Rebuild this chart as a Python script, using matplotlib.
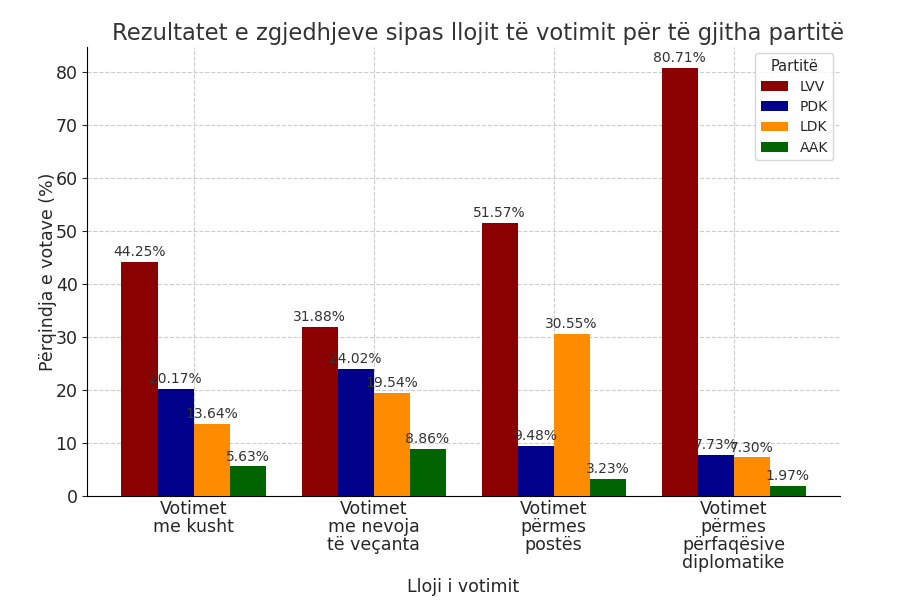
import matplotlib
matplotlib.use("Agg")
import matplotlib.pyplot as plt
import numpy as np

categories = ["Votimet\nme kusht", "Votimet\nme nevoja\ntë veçanta", "Votimet\npërmes\npostës", "Votimet\npërmes\npërfaqësive\ndiplomatike"]
parties = ["LVV", "PDK", "LDK", "AAK"]
LVV = [44.25, 31.88, 51.57, 80.71]
PDK = [20.17, 24.02, 9.48, 7.73]
LDK = [13.64, 19.54, 30.55, 7.30]
AAK = [5.63, 8.86, 3.23, 1.97]
colors = ["#8b0000", "#00008b", "#ff8c00", "#006400"]

txt = "#262626"
plt.rcParams['text.color'] = txt
plt.rcParams['axes.labelcolor'] = txt
plt.rcParams['xtick.color'] = txt
plt.rcParams['ytick.color'] = txt

fig, ax = plt.subplots(figsize=(9, 6), dpi=100)
fig.subplots_adjust(left=0.097, right=0.933, top=0.922, bottom=0.173)

x = np.arange(len(categories))
w = 0.2
series = [LVV, PDK, LDK, AAK]
for i, (name, vals) in enumerate(zip(parties, series)):
    bars = ax.bar(x + (i - 1.5) * w, vals, w, label=name, color=colors[i], zorder=3)
    for b, v in zip(bars, vals):
        ax.annotate(f"{v:.2f}%", (b.get_x() + b.get_width() / 2, v),
                    xytext=(0, 2), textcoords="offset points",
                    ha="center", va="bottom", fontsize=10, color="#333333", zorder=4)

ax.set_xticks(x)
ax.set_xticklabels(categories, fontsize=12.5, linespacing=1.0)
ax.tick_params(axis='y', labelsize=12.5)
ax.tick_params(axis='x', length=0, pad=3)
ax.set_title("Rezultatet e zgjedhjeve sipas llojit të votimit për të gjitha partitë", fontsize=16.3, color="#333333", pad=5, x=0.519)
ax.set_xlabel("Lloji i votimit", fontsize=12.5, labelpad=4)
ax.set_ylabel("Përqindja e votave (%)", fontsize=12.5, labelpad=-1)
ax.grid(True, linestyle="--", color="#cccccc", linewidth=0.8, zorder=0)
ax.spines['top'].set_visible(False)
ax.spines['right'].set_visible(False)
ax.legend(title="Partitë", loc="upper right", fontsize=10, title_fontsize=10.5, labelspacing=0.45, borderaxespad=0.45)

fig.savefig("out.png", dpi=100)
